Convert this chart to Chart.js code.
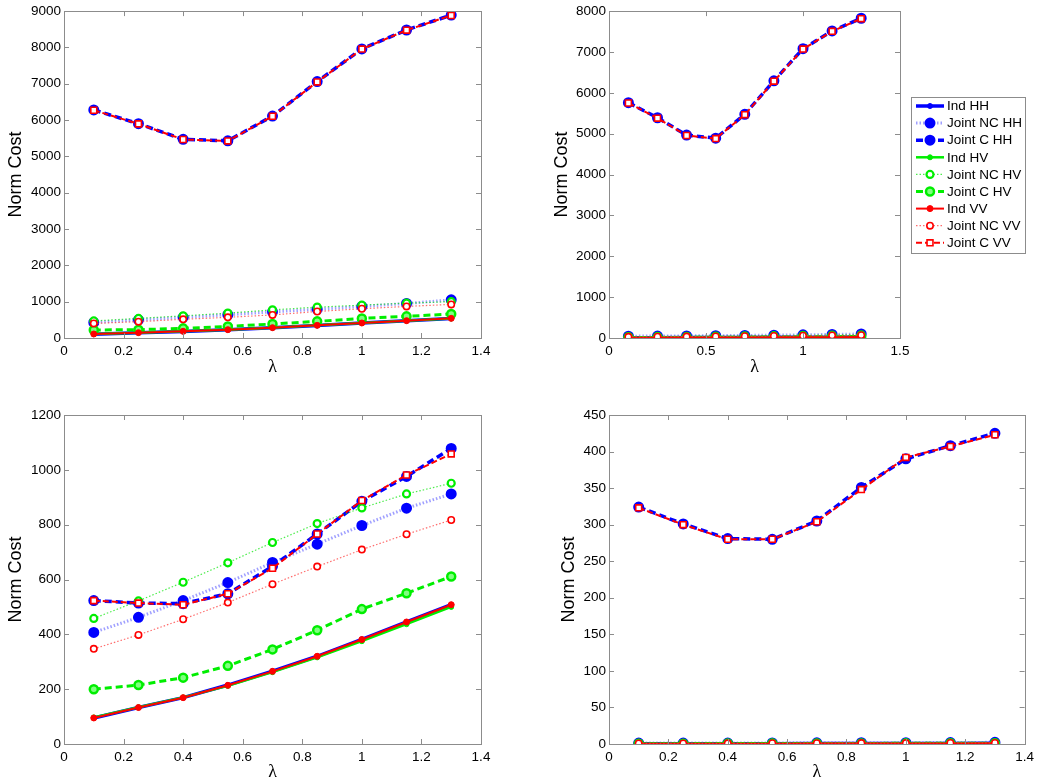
<!DOCTYPE html>
<html>
<head>
<meta charset="utf-8">
<title>Norm Cost vs lambda</title>
<script src="https://cdn.jsdelivr.net/npm/chart.js@4.4.1/dist/chart.umd.min.js"></script>
<style>
  body { margin: 0; background: #fff; }
  #wrap { position: relative; width: 1039px; height: 784px; overflow: hidden; }
  canvas { position: absolute; }
</style>
</head>
<body>
<div id="wrap">
  <canvas id="c1" width="520" height="392" style="left:0;top:0"></canvas>
  <canvas id="c2" width="519" height="392" style="left:520px;top:0"></canvas>
  <canvas id="c3" width="520" height="394" style="left:0;top:390px"></canvas>
  <canvas id="c4" width="519" height="394" style="left:520px;top:390px"></canvas>
</div>
<script>
const lambdas = [0.1, 0.25, 0.4, 0.55, 0.7, 0.85, 1.0, 1.15, 1.3];
const seriesNames = ["Ind HH", "Joint NC HH", "Joint C HH", "Ind HV", "Joint NC HV", "Joint C HV", "Ind VV", "Joint NC VV", "Joint C VV"];

// one row per series, same order as seriesNames
const topLeftCost = [
  [105, 143, 180, 226, 280, 345, 410, 475, 540],
  [430, 500, 570, 640, 720, 790, 870, 950, 1050],
  [6280, 5900, 5470, 5430, 6110, 7060, 7960, 8480, 8890],
  [110, 147, 183, 229, 284, 348, 413, 477, 535],
  [470, 540, 610, 685, 775, 850, 905, 960, 1000],
  [220, 230, 265, 320, 385, 458, 540, 596, 660],
  [110, 147, 183, 229, 284, 348, 413, 477, 541],
  [400, 450, 515, 570, 635, 730, 805, 870, 925],
  [6270, 5895, 5465, 5425, 6105, 7050, 7955, 8475, 8880]
];
const topRightCost = [
  [8, 9, 10, 12, 14, 16, 18, 21, 25],
  [45, 48, 52, 56, 62, 70, 78, 86, 98],
  [5760, 5390, 4965, 4890, 5475, 6295, 7080, 7515, 7825],
  [7, 8, 9, 11, 13, 15, 17, 19, 22],
  [35, 38, 42, 46, 52, 58, 65, 72, 80],
  [12, 13, 15, 17, 20, 24, 28, 32, 36],
  [8, 9, 10, 12, 14, 16, 18, 21, 24],
  [28, 31, 35, 39, 44, 50, 56, 62, 70],
  [5750, 5380, 4955, 4880, 5465, 6285, 7070, 7505, 7815]
];
const bottomLeftCost = [
  [95, 133, 169, 215, 266, 320, 382, 445, 508],
  [407, 462, 523, 589, 662, 729, 797, 860, 912],
  [523, 514, 512, 548, 648, 766, 885, 976, 1078],
  [97, 134, 170, 212, 262, 316, 375, 437, 500],
  [458, 522, 590, 661, 735, 804, 861, 912, 951],
  [200, 215, 242, 285, 345, 415, 492, 550, 611],
  [95, 133, 169, 214, 265, 320, 381, 445, 508],
  [347, 398, 455, 516, 583, 647, 709, 765, 817],
  [523, 514, 508, 548, 641, 766, 888, 981, 1058]
];
const bottomRightCost = [
  [0.4, 0.4, 0.5, 0.5, 0.6, 0.6, 0.7, 0.8, 0.9],
  [1.2, 1.3, 1.3, 1.5, 1.6, 1.7, 1.8, 2.0, 2.3],
  [324, 301, 281, 280, 305, 351, 390, 408, 425],
  [0.3, 0.3, 0.4, 0.4, 0.5, 0.5, 0.6, 0.7, 0.8],
  [0.9, 1.0, 1.0, 1.1, 1.2, 1.3, 1.4, 1.5, 1.7],
  [0.5, 0.5, 0.6, 0.6, 0.7, 0.8, 0.9, 1.0, 1.1],
  [0.4, 0.4, 0.5, 0.5, 0.6, 0.6, 0.7, 0.8, 0.9],
  [0.8, 0.8, 0.9, 1.0, 1.1, 1.2, 1.3, 1.4, 1.5],
  [323, 300, 280, 280, 304, 348, 392, 407, 423]
];

const BLUE = "#0000ff", GREEN = "#00ee00", RED = "#ff0000";

// line + marker look of every series (solid = Ind, dotted = Joint NC, dashed = Joint C)
const seriesStyles = [
  { line: BLUE, width: 3.5, dash: [], shape: "circle", radius: 2.5, pw: 1, mark: BLUE, fill: BLUE },
  { line: "rgba(80,80,255,0.55)", width: 3, dash: [1.5, 2], shape: "circle", radius: 4.5, pw: 2, mark: BLUE, fill: BLUE },
  { line: BLUE, width: 3.5, dash: [7, 4], shape: "circle", radius: 4.5, pw: 2, mark: BLUE, fill: BLUE },
  { line: GREEN, width: 2.5, dash: [], shape: "circle", radius: 2.5, pw: 1, mark: GREEN, fill: GREEN },
  { line: "rgba(0,230,0,0.7)", width: 1.2, dash: [1.5, 2], shape: "circle", radius: 3.5, pw: 2.2, mark: GREEN, fill: "#ffffff" },
  { line: GREEN, width: 3, dash: [7, 4], shape: "circle", radius: 4, pw: 2.5, mark: GREEN, fill: "#80ff80" },
  { line: RED, width: 2, dash: [], shape: "circle", radius: 3, pw: 1, mark: RED, fill: RED },
  { line: "rgba(255,60,60,0.75)", width: 1.2, dash: [1.5, 2], shape: "circle", radius: 3.2, pw: 1.6, mark: RED, fill: "#ffffff" },
  { line: RED, width: 2, dash: [6, 3], shape: "rect", radius: 4.2, pw: 1.6, mark: RED, fill: "#ffffff" }
];

const tickFont = { family: "'Liberation Sans', Arial, sans-serif", size: 13.5 };
const yTitleFont = { family: "'Liberation Sans', Arial, sans-serif", size: 18 };
const xTitleFont = { family: "'Liberation Serif', 'DejaVu Serif', serif", size: 18 };

function buildDatasets(rows) {
  return rows.map((vals, i) => {
    const st = seriesStyles[i];
    return {
      label: seriesNames[i],
      data: lambdas.map((x, k) => ({ x: x, y: vals[k] })),
      borderColor: st.line,
      borderWidth: st.width,
      borderDash: st.dash,
      pointStyle: st.shape,
      pointRadius: st.radius,
      pointBorderWidth: st.pw,
      pointBorderColor: st.mark,
      pointBackgroundColor: st.fill,
      tension: 0,
      fill: false,
      order: rows.length - i
    };
  });
}

// boxed axes with inward ticks on all four sides
const boxFrame = {
  id: "boxFrame",
  afterDatasetsDraw(chart) {
    const { ctx, chartArea: a, scales } = chart;
    const len = 5;
    ctx.save();
    ctx.strokeStyle = "#8c8c8c";
    ctx.lineWidth = 1;
    ctx.setLineDash([]);
    ctx.strokeRect(Math.round(a.left) + 0.5, Math.round(a.top) + 0.5,
      Math.round(a.width), Math.round(a.height));
    ctx.beginPath();
    scales.x.ticks.forEach((t, i) => {
      const px = Math.round(scales.x.getPixelForTick(i)) + 0.5;
      ctx.moveTo(px, a.bottom); ctx.lineTo(px, a.bottom - len);
      ctx.moveTo(px, a.top); ctx.lineTo(px, a.top + len);
    });
    scales.y.ticks.forEach((t, i) => {
      const py = Math.round(scales.y.getPixelForTick(i)) + 0.5;
      ctx.moveTo(a.left, py); ctx.lineTo(a.left + len, py);
      ctx.moveTo(a.right, py); ctx.lineTo(a.right - len, py);
    });
    ctx.stroke();
    ctx.restore();
  }
};

function drawMarker(ctx, st, x, y) {
  ctx.setLineDash([]);
  ctx.lineWidth = st.pw;
  ctx.strokeStyle = st.mark;
  ctx.fillStyle = st.fill;
  ctx.beginPath();
  if (st.shape === "rect") {
    const s = st.radius * Math.SQRT1_2;
    ctx.rect(x - s, y - s, 2 * s, 2 * s);
  } else {
    ctx.arc(x, y, st.radius, 0, Math.PI * 2);
  }
  ctx.fill();
  ctx.stroke();
}

// legend box to the right of the top-right axes
const sideLegend = {
  id: "sideLegend",
  afterDraw(chart) {
    const ctx = chart.ctx;
    const left = 391, top = 97, w = 114, h = 156;
    ctx.save();
    ctx.fillStyle = "#fff";
    ctx.fillRect(left, top, w, h);
    ctx.strokeStyle = "#8c8c8c";
    ctx.lineWidth = 1;
    ctx.strokeRect(left + 0.5, top + 0.5, w, h);
    ctx.font = "13.5px 'Liberation Sans', Arial, sans-serif";
    ctx.textBaseline = "middle";
    seriesNames.forEach((name, i) => {
      const st = seriesStyles[i];
      const y = top + 9 + i * 17.1;
      ctx.strokeStyle = st.line;
      ctx.lineWidth = st.width;
      ctx.setLineDash(st.dash);
      ctx.beginPath();
      ctx.moveTo(396, y);
      ctx.lineTo(424, y);
      ctx.stroke();
      drawMarker(ctx, st, 410, y);
      ctx.fillStyle = "#000";
      ctx.fillText(name, 427, y + 0.5);
    });
    ctx.restore();
  }
};

function makeChart(id, rows, opts) {
  const plugins = [boxFrame];
  if (opts.legend) plugins.push(sideLegend);
  return new Chart(document.getElementById(id), {
    type: "line",
    data: { datasets: buildDatasets(rows) },
    plugins: plugins,
    options: {
      responsive: false,
      animation: false,
      devicePixelRatio: 1,
      layout: { padding: opts.pad },
      plugins: { legend: { display: false }, tooltip: { enabled: false } },
      scales: {
        x: {
          type: "linear",
          min: 0,
          max: opts.xMax,
          grid: { display: false, drawTicks: false },
          border: { display: false },
          ticks: {
            stepSize: opts.xStep,
            padding: 5,
            autoSkip: false,
            maxRotation: 0,
            color: "#000",
            font: tickFont,
            callback: (v) => String(+v.toFixed(2))
          },
          title: {
            display: true,
            text: "λ",
            color: "#000",
            font: xTitleFont,
            padding: { top: 0, bottom: opts.xTitlePad }
          },
          afterFit: (s) => { s.height = opts.xHeight; }
        },
        y: {
          min: 0,
          max: opts.yMax,
          grid: { display: false, drawTicks: false },
          border: { display: false },
          ticks: {
            stepSize: opts.yStep,
            padding: 3,
            autoSkip: false,
            color: "#000",
            font: tickFont,
            callback: (v) => String(v)
          },
          title: {
            display: true,
            text: "Norm Cost",
            color: "#000",
            font: yTitleFont,
            padding: { top: opts.yTitlePad, bottom: 0 }
          },
          afterFit: (s) => { s.width = opts.yWidth; }
        }
      }
    }
  });
}

makeChart("c1", topLeftCost, {
  xMax: 1.4, xStep: 0.2, yMax: 9000, yStep: 1000,
  pad: { left: 0, right: 39, top: 10, bottom: 0 },
  yWidth: 64, xHeight: 54, yTitlePad: 5, xTitlePad: 14
});
makeChart("c2", topRightCost, {
  xMax: 1.5, xStep: 0.5, yMax: 8000, yStep: 1000, legend: true,
  pad: { left: 0, right: 139, top: 10, bottom: 0 },
  yWidth: 89, xHeight: 54, yTitlePad: 31, xTitlePad: 14
});
makeChart("c3", bottomLeftCost, {
  xMax: 1.4, xStep: 0.2, yMax: 1200, yStep: 200,
  pad: { left: 0, right: 39, top: 25, bottom: 0 },
  yWidth: 64, xHeight: 40, yTitlePad: 5.5, xTitlePad: 0.5
});
makeChart("c4", bottomRightCost, {
  xMax: 1.4, xStep: 0.2, yMax: 450, yStep: 50,
  pad: { left: 0, right: 12, top: 25, bottom: 0 },
  yWidth: 89, xHeight: 40, yTitlePad: 38, xTitlePad: 0.5
});
</script>
</body>
</html>
